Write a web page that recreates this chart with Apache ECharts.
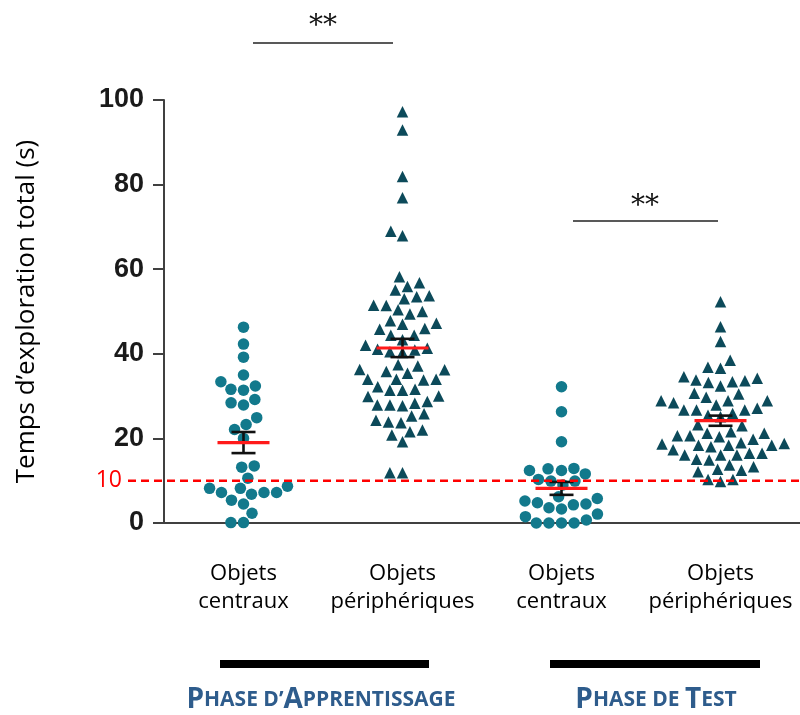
<!DOCTYPE html>
<html><head><meta charset="utf-8">
<script src="https://cdn.jsdelivr.net/npm/echarts@6/dist/echarts.min.js"></script>
<style>html,body{margin:0;padding:0;background:#fff}#c{width:800px;height:715px}</style>
</head><body><div id="c"></div>
<script>
// ---- data ----
const categories = ['Objets\ncentraux', 'Objets\npériphériques', 'Objets\ncentraux', 'Objets\npériphériques'];
const apprentissageCentraux = [46.3, 42.3, 39.2, 35.0, 33.4, 32.4, 31.6, 31.4, 29.2, 27.9, 28.4, 24.9, 23.3, 22.1, 20.0,
  13.5, 13.2, 10.6, 8.7, 7.2, 7.2, 8.2, 8.2, 6.8, 7.2, 5.4, 4.5, 2.3, 0.1, 0.1];
const apprentissagePeripheriques = [97.2, 92.9, 81.9, 76.9, 67.9, 69.0, 58.2, 55.9, 56.8, 55.1, 53.7, 53.0, 53.5, 51.4,
  50.0, 49.4, 50.4, 51.5, 47.8, 47.0, 45.8, 46.0, 47.2, 44.4, 44.4, 43.3, 41.3, 40.9, 42.0, 40.5, 41.1, 40.3,
  37.4, 36.3, 35.8, 35.4, 36.2, 37.1, 34.0, 33.8, 34.0, 34.0, 31.6, 31.4, 31.4, 32.2,
  29.9, 28.7, 27.9, 27.7, 27.9, 28.3, 30.0, 25.8, 24.3, 23.7, 23.9, 25.3, 22.0, 20.8, 21.6, 19.2, 11.9, 11.9];
const testCentraux = [32.2, 26.3, 19.2, 12.8, 12.4, 11.6, 12.4, 12.9, 10.3, 9.9, 9.9, 9.0, 6.2, 5.2, 4.5, 3.6, 3.3, 4.3,
  4.8, 5.8, 2.1, 0.7, 1.5, 0, 0, 0, 0];
const testPeripheriques = [52.3, 46.4, 42.9, 38.5, 36.6, 36.8, 34.6, 33.8, 33.2, 33.4, 33.6, 34.2,
  30.7, 30.5, 32.4, 28.9, 28.4, 29.7, 27.9, 28.9, 28.9, 25.9, 27.1, 26.7, 26.7, 26.7, 25.1, 25.5, 23.0, 23.2,
  21.2, 20.4, 19.8, 20.6, 21.6, 20.6, 21.2, 18.8, 18.4, 18.0, 17.3, 18.4, 18.4, 18.7, 19.0,
  16.1, 15.1, 16.5, 16.5, 16.1, 14.9, 16.1, 12.5, 13.7, 13.3, 12.1, 12.7, 10.3, 9.8, 10.3];
const groups = [apprentissageCentraux, apprentissagePeripheriques, testCentraux, testPeripheriques];
const yTicks = [0, 20, 40, 60, 80, 100];
const threshold = 10;
const yAxisTitle = 'Temps d\u2019exploration total (s)';
const significance = '**';

// ---- styles ----
const circleColor = '#12798c';
const triColor = '#0c4a5a';
const symbols = ['circle', 'triangle', 'circle', 'triangle'];
const colors = [circleColor, triColor, circleColor, triColor];

const chart = echarts.init(document.getElementById('c'));

function stats(a) {
  const n = a.length, m = a.reduce((s, v) => s + v, 0) / n;
  const sd = Math.sqrt(a.reduce((s, v) => s + (v - m) * (v - m), 0) / (n - 1));
  return [m, sd / Math.sqrt(n)];
}

const base = {
  animation: false,
  grid: { left: 164, right: 0, top: 100, bottom: 192 },
  xAxis: [
    { type: 'category', data: categories, boundaryGap: true,
      axisLine: { lineStyle: { color: '#404040', width: 2 } },
      axisTick: { alignWithLabel: true, length: 6, lineStyle: { color: '#404040', width: 2 } },
      axisLabel: { margin: 37, color: '#000', fontFamily: 'Open Sans', fontSize: 22, lineHeight: 28, interval: 0 },
      splitLine: { show: false } },
    { type: 'value', min: 0, max: 4, show: false }
  ],
  yAxis: {
    type: 'value', min: yTicks[0], max: yTicks[yTicks.length - 1], interval: 20,
    name: yAxisTitle, nameLocation: 'middle', nameRotate: 90, nameGap: 124,
    nameTextStyle: { fontFamily: 'Open Sans', fontSize: 26, color: '#000' },
    axisLine: { show: true, lineStyle: { color: '#404040', width: 2 } },
    axisTick: { show: true, length: 11, lineStyle: { color: '#404040', width: 2 } },
    axisLabel: { margin: 20, color: '#1a1a1a', fontFamily: 'Liberation Sans', fontWeight: 'bold', fontSize: 27 },
    splitLine: { show: false }
  },
  series: []
};
chart.setOption(base);

const D = 12.6;
function swarm(py) {
  const idx = py.map((v, i) => i).sort((a, b) => py[b] - py[a]);
  const placed = [], offs = new Array(py.length);
  idx.forEach(i => {
    const y = py[i];
    const cands = [0];
    placed.forEach(p => {
      const dy = Math.abs(p.y - y);
      if (dy < D) { const dx = Math.sqrt(D * D - dy * dy); cands.push(p.x + dx, p.x - dx); }
    });
    cands.sort((a, b) => Math.abs(a) - Math.abs(b) || a - b);
    let best = 0;
    for (const c of cands) {
      if (placed.every(p => (p.x - c) * (p.x - c) + (p.y - y) * (p.y - y) >= D * D - 1e-3)) { best = c; break; }
    }
    placed.push({ x: best, y });
    offs[i] = best;
  });
  return offs;
}

const series = [];
const errData = [];
groups.forEach((vals, g) => {
  const cx = chart.convertToPixel({ xAxisIndex: 1 }, g + 0.5);
  const py = vals.map(v => chart.convertToPixel({ yAxisIndex: 0 }, v));
  const offs = swarm(py);
  const data = vals.map((v, i) => [chart.convertFromPixel({ xAxisIndex: 1 }, cx + offs[i]), v]);
  series.push({
    type: 'scatter', xAxisIndex: 1, yAxisIndex: 0, data,
    symbol: symbols[g], symbolSize: symbols[g] === 'circle' ? 11.5 : 11.5,
    itemStyle: { color: colors[g], opacity: 1 }, z: 2
  });
  const [m, se] = stats(vals);
  errData.push([g + 0.5, m, se]);
});

series.push({
  type: 'custom', xAxisIndex: 1, yAxisIndex: 0, z: 5, data: errData,
  renderItem: function (params, api) {
    const x = api.value(0), m = api.value(1), se = api.value(2);
    const pm = api.coord([x, m]), pt = api.coord([x, m + se]), pb = api.coord([x, m - se]);
    const black = { stroke: '#111', lineWidth: 2.6 };
    return { type: 'group', children: [
      { type: 'line', shape: { x1: pm[0], y1: pt[1], x2: pm[0], y2: pb[1] }, style: black },
      { type: 'line', shape: { x1: pm[0] - 12, y1: pt[1], x2: pm[0] + 12, y2: pt[1] }, style: black },
      { type: 'line', shape: { x1: pm[0] - 12, y1: pb[1], x2: pm[0] + 12, y2: pb[1] }, style: black },
      { type: 'line', shape: { x1: pm[0] - 26, y1: pm[1], x2: pm[0] + 26, y2: pm[1] }, style: { stroke: '#ff1a1a', lineWidth: 3.2 } }
    ] };
  }
});

const yThr = chart.convertToPixel({ yAxisIndex: 0 }, threshold);
const richPhase = {
  b: { fontSize: 28, fontFamily: 'Open Sans', fill: '#2e5c8c', fontWeight: 'bold' },
  s: { fontSize: 21, fontFamily: 'Open Sans', fill: '#2e5c8c', fontWeight: 'bold' }
};
const graphic = [
  { type: 'line', z: 10, shape: { x1: 128, y1: yThr, x2: 800, y2: yThr },
    style: { stroke: '#ff0000', lineWidth: 2.4, lineDash: [8, 5] } },
  { type: 'text', z: 10, x: 122, y: yThr, style: { text: String(threshold), fill: '#ff0000', font: '23px "Open Sans"', textAlign: 'right', textVerticalAlign: 'middle' } },
  // significance brackets
  { type: 'line', shape: { x1: 253, y1: 43, x2: 393, y2: 43 }, style: { stroke: '#222', lineWidth: 1.3 } },
  { type: 'text', x: 323, y: 27, style: { text: significance, fill: '#111', font: '28px "DejaVu Serif"', textAlign: 'center', textVerticalAlign: 'middle' } },
  { type: 'line', shape: { x1: 573, y1: 221, x2: 718, y2: 221 }, style: { stroke: '#222', lineWidth: 1.3 } },
  { type: 'text', x: 645, y: 207, style: { text: significance, fill: '#111', font: '28px "DejaVu Serif"', textAlign: 'center', textVerticalAlign: 'middle' } },
  // phase bars
  { type: 'rect', shape: { x: 220, y: 660, width: 209, height: 8 }, style: { fill: '#000' } },
  { type: 'rect', shape: { x: 550, y: 660, width: 210, height: 8 }, style: { fill: '#000' } },
  { type: 'text', x: 321, y: 700, style: {
      text: '{b|P}{s|HASE D\u2019}{b|A}{s|PPRENTISSAGE}', textAlign: 'center', textVerticalAlign: 'middle', rich: richPhase } },
  { type: 'text', x: 656, y: 700, style: {
      text: '{b|P}{s|HASE DE }{b|T}{s|EST}', textAlign: 'center', textVerticalAlign: 'middle', rich: richPhase } }
];

chart.setOption({ series, graphic });
</script></body></html>
